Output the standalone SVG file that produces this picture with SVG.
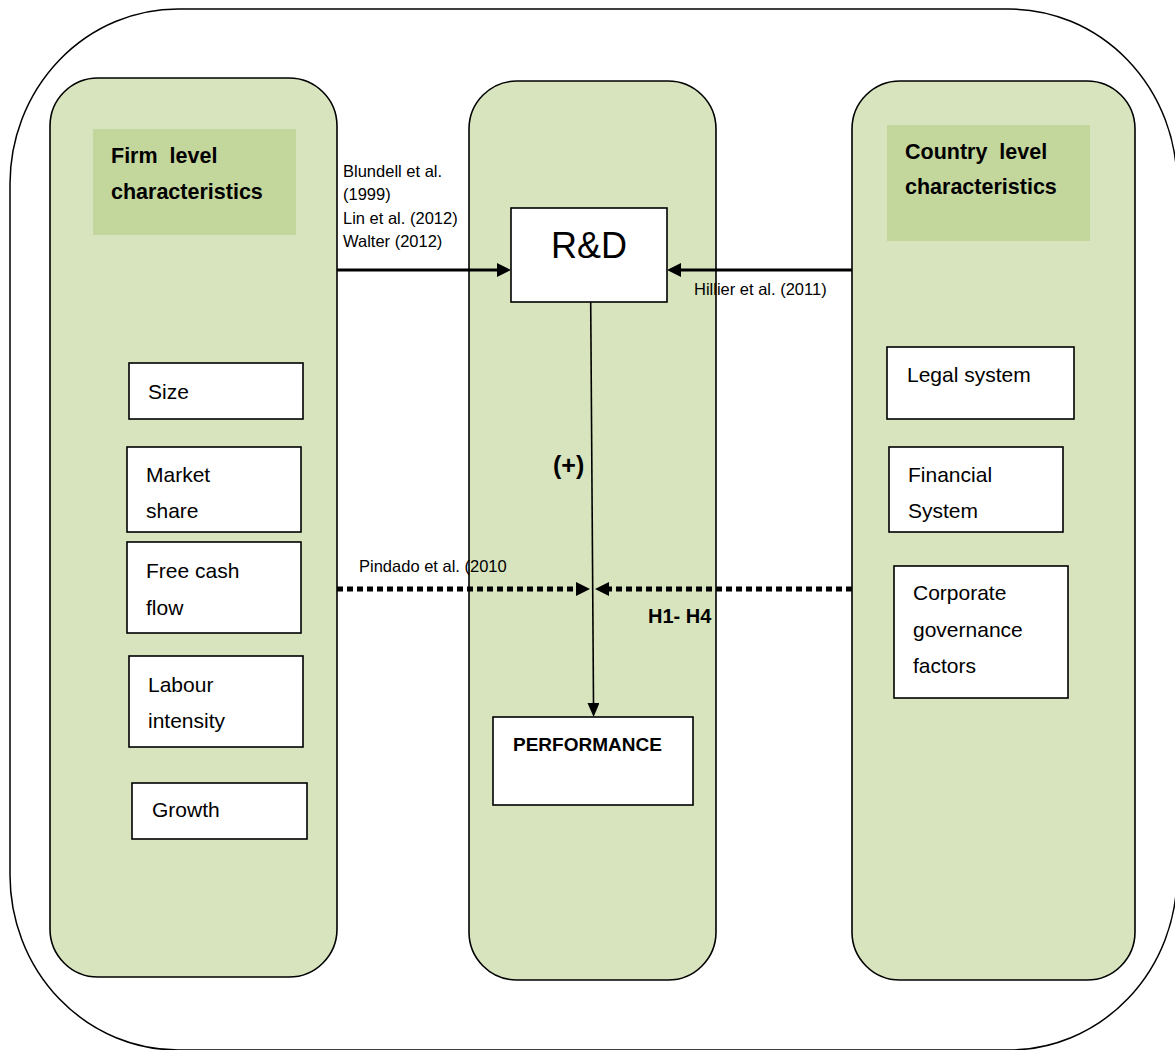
<svg xmlns="http://www.w3.org/2000/svg" width="1175" height="1050" viewBox="0 0 1175 1050">
<style>
.panel{fill:#d7e4bd;stroke:#000;stroke-width:1.6}
.hdr{fill:#c3d69b}
.box{fill:#fff;stroke:#000;stroke-width:1.6}
.t{font-family:"Liberation Sans",Arial,sans-serif;fill:#000}
.item{font-size:21px}
.cite{font-size:16.5px}
.bold{font-weight:bold}
</style>
<defs>
<marker id="ah" markerUnits="userSpaceOnUse" markerWidth="16" markerHeight="16" refX="0" refY="7" orient="auto">
<path d="M0,0 L14,7 L0,14 z" fill="#000"/>
</marker>
<marker id="ahs" markerUnits="userSpaceOnUse" markerWidth="16" markerHeight="16" refX="0" refY="6" orient="auto">
<path d="M0,0 L14,6 L0,12 z" fill="#000"/>
</marker>
</defs>
<rect id="outer" x="10" y="9" width="1167" height="1041" rx="168" ry="175" fill="#fff" stroke="#000" stroke-width="1.5"/>

<g id="firm-panel">
<rect class="panel" x="50" y="78" width="287" height="899" rx="48" ry="48"/>
<rect class="hdr" x="93" y="129" width="203" height="106"/>
<text class="t bold" x="111" y="163" font-size="21.5" xml:space="preserve">Firm  level</text>
<text class="t bold" x="111" y="199" font-size="21.5">characteristics</text>
</g>
<g id="center-panel">
<rect class="panel" x="469" y="81" width="247" height="899" rx="48" ry="48"/>
</g>
<g id="country-panel">
<rect class="panel" x="852" y="81" width="283" height="899" rx="48" ry="48"/>
<rect class="hdr" x="887" y="125" width="203" height="116"/>
<text class="t bold" x="905" y="159" font-size="21.5" xml:space="preserve">Country  level</text>
<text class="t bold" x="905" y="194" font-size="21.5">characteristics</text>
</g>

<g id="size"><rect class="box" x="129" y="363" width="174" height="56"/><text class="t item" x="148" y="399">Size</text></g>
<g id="market-share"><rect class="box" x="127" y="447" width="174" height="85"/><text class="t item" x="146" y="482">Market</text><text class="t item" x="146" y="518">share</text></g>
<g id="free-cash-flow"><rect class="box" x="127" y="542" width="174" height="91"/><text class="t item" x="146" y="578">Free cash</text><text class="t item" x="146" y="615">flow</text></g>
<g id="labour-intensity"><rect class="box" x="129" y="656" width="174" height="91"/><text class="t item" x="148" y="692">Labour</text><text class="t item" x="148" y="728">intensity</text></g>
<g id="growth"><rect class="box" x="132" y="783" width="175" height="56"/><text class="t item" x="152" y="817">Growth</text></g>

<g id="legal-system"><rect class="box" x="887" y="347" width="187" height="72"/><text class="t item" x="907" y="382">Legal system</text></g>
<g id="financial-system"><rect class="box" x="889" y="447" width="174" height="85"/><text class="t item" x="908" y="482">Financial</text><text class="t item" x="908" y="518">System</text></g>
<g id="corporate-governance"><rect class="box" x="894" y="566" width="174" height="132"/><text class="t item" x="913" y="600">Corporate</text><text class="t item" x="913" y="637">governance</text><text class="t item" x="913" y="673">factors</text></g>

<g id="rd"><rect class="box" x="511" y="208" width="156" height="94"/><text class="t" x="589" y="258" font-size="36" text-anchor="middle">R&amp;D</text></g>
<g id="performance"><rect class="box" x="493" y="717" width="200" height="88"/><text class="t bold" x="513" y="751" font-size="19">PERFORMANCE</text></g>

<g id="connectors">
<line x1="337" y1="270" x2="497" y2="270" stroke="#000" stroke-width="3" marker-end="url(#ah)"/>
<line x1="852" y1="270" x2="681" y2="270" stroke="#000" stroke-width="3" marker-end="url(#ah)"/>
<line x1="590.7" y1="302" x2="593.5" y2="703" stroke="#000" stroke-width="1.6" marker-end="url(#ahs)"/>
<line x1="337" y1="589" x2="576" y2="589" stroke="#000" stroke-width="5" stroke-dasharray="6 4" marker-end="url(#ah)"/>
<line x1="852" y1="589" x2="609" y2="589" stroke="#000" stroke-width="5" stroke-dasharray="6 4" marker-end="url(#ah)"/>
</g>

<g id="labels">
<text class="t cite" x="343" y="177">Blundell et al.</text>
<text class="t cite" x="343" y="200">(1999)</text>
<text class="t cite" x="343" y="224">Lin et al. (2012)</text>
<text class="t cite" x="343" y="247">Walter (2012)</text>
<text class="t cite" x="694" y="295">Hillier et al. (2011)</text>
<text class="t cite" x="359" y="572">Pindado et al. (2010</text>
<text class="t bold" x="553" y="474" font-size="25">(+)</text>
<text class="t bold" x="648" y="623" font-size="20">H1- H4</text>
</g>
</svg>
